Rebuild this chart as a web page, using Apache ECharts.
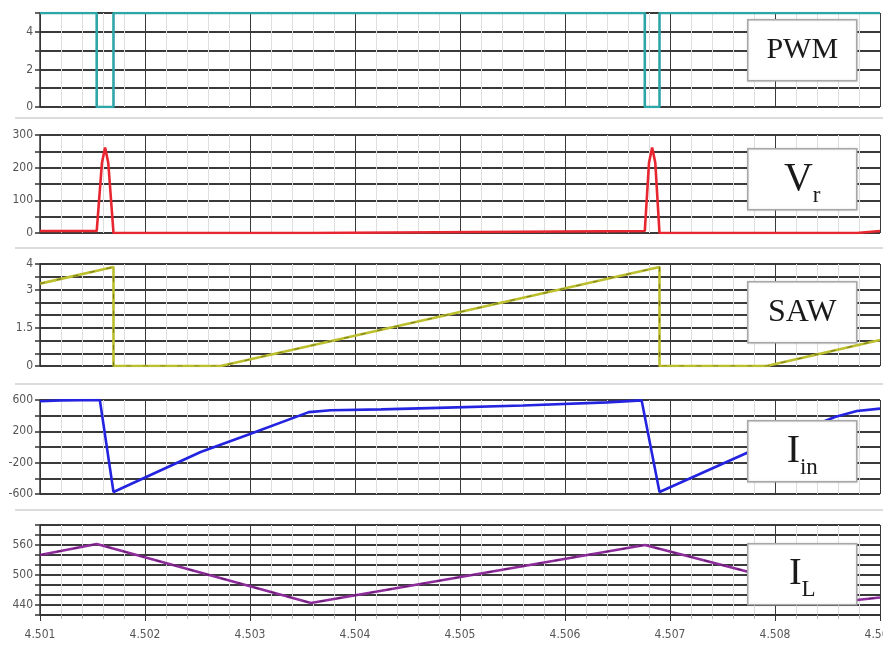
<!DOCTYPE html>
<html>
<head>
<meta charset="utf-8">
<title>PWM converter waveforms</title>
<script src="https://cdn.jsdelivr.net/npm/echarts@6/dist/echarts.min.js"></script>
<style>
  html, body { margin: 0; padding: 0; background: #fff; }
  #chart { width: 883px; height: 651px; }
</style>
</head>
<body>
<div id="chart"></div>
<script>
// Time axis (seconds)
const timeMin = 4.501;
const timeMax = 4.509;

// PWM gate signal
const pwmTime  = [4.501, 4.50154, 4.50154, 4.50170, 4.50170, 4.50676, 4.50676, 4.50690, 4.50690, 4.509];
const pwmValue = [5, 5, 0, 0, 5, 5, 0, 0, 5, 5];

// Voltage V_r
const vrTime  = [4.501, 4.50154, 4.50159, 4.50162, 4.50165, 4.50170, 4.50358, 4.50358, 4.50676, 4.50680, 4.50683, 4.50686, 4.50690, 4.50878, 4.50878, 4.509];
const vrValue = [6, 6, 215, 262, 215, 0, 0, 6, 6, 215, 262, 215, 0, 0, 6, 6];

// Sawtooth carrier
const sawTime  = [4.501, 4.50170, 4.50170, 4.50272, 4.50690, 4.50690, 4.50792, 4.509];
const sawValue = [3.23, 3.88, 0, 0, 3.88, 0, 0, 1.02];

// Input current I_in
const iinTime  = [4.501, 4.50120, 4.50157, 4.50170, 4.50253, 4.50300, 4.50356, 4.50377, 4.50425, 4.50479, 4.50560, 4.50640, 4.50673, 4.50690, 4.50773, 4.50857, 4.50878, 4.509];
const iinValue = [585, 595, 600, -575, -64, 167, 445, 470, 480, 500, 530, 570, 595, -575, -77, 383, 460, 490];

// Inductor current I_L
const ilTime  = [4.501, 4.50154, 4.50358, 4.50676, 4.50878, 4.509];
const ilValue = [540, 562, 444, 560, 450, 455];

// Axis ranges and visible tick labels per panel
const pwmAxis = { min: 0, max: 5, interval: 1, labels: [0, 2, 4] };
const vrAxis  = { min: 0, max: 300, interval: 50, labels: [0, 100, 200, 300] };
const sawAxis = { min: 0, max: 4, interval: 0.5, labels: [0, 1.5, 3, 4] };
const iinAxis = { min: -600, max: 600, interval: 200, labels: [-600, -200, 200, 600] };
const ilAxis  = { min: 420, max: 600, interval: 20, labels: [440, 500, 560] };

const zip = (xs, ys) => xs.map((x, i) => [x, ys[i]]);

// Panel layout: top & height in px
const panels = [
  { top: 13,  height: 94, axis: pwmAxis, data: zip(pwmTime, pwmValue), color: '#2ea6a8' },
  { top: 135, height: 98, axis: vrAxis,  data: zip(vrTime, vrValue),   color: '#e82630' },
  { top: 264, height: 102, axis: sawAxis, data: zip(sawTime, sawValue), color: '#bcbf2e', dash: '#55580f' },
  { top: 400, height: 94, axis: iinAxis, data: zip(iinTime, iinValue), color: '#2424e0' },
  { top: 525, height: 90, axis: ilAxis,  data: zip(ilTime, ilValue),   color: '#8e2c9c', dash: '#4a1050' }
];

const labelFont = "'Liberation Sans Narrow', 'DejaVu Sans Condensed', sans-serif";

const grids = [], xAxes = [], yAxes = [], series = [];
panels.forEach((p, i) => {
  const last = i === panels.length - 1;
  grids.push({ left: 40, right: 3, top: p.top, height: p.height, outerBoundsMode: 'none', containLabel: false });
  xAxes.push({
    type: 'value', gridIndex: i, min: timeMin, max: timeMax, interval: 0.001,
    axisLine: { show: last, onZero: false, lineStyle: { color: '#333', width: 1.5 } },
    axisTick: { show: last, length: 6, lineStyle: { color: '#333' } },
    minorTick: { show: last, splitNumber: 5, length: 4, lineStyle: { color: '#bbb' } },
    axisLabel: {
      show: last, margin: 14, color: '#555', fontSize: 12, fontFamily: labelFont,
      formatter: v => v.toFixed(3)
    },
    splitLine: { show: true, lineStyle: { color: '#3a3a3a', width: 1 } },
    minorSplitLine: { show: true, lineStyle: { color: '#dedede', width: 1 } }
  });
  const ax = p.axis;
  yAxes.push({
    type: 'value', gridIndex: i, min: ax.min, max: ax.max, interval: ax.interval,
    axisLine: { show: true, onZero: false, lineStyle: { color: '#333', width: 1.5 } },
    axisTick: { show: true, length: 5, lineStyle: { color: '#333', width: 1.5 } },
    axisLabel: {
      color: '#555', fontSize: 12, fontFamily: labelFont, margin: 7,
      formatter: v => ax.labels.some(l => Math.abs(l - v) < 1e-9) ? String(v) : ''
    },
    splitLine: { show: true, lineStyle: { color: '#3a3a3a', width: 1.8 } }
  });
  series.push({
    type: 'line', xAxisIndex: i, yAxisIndex: i, data: p.data,
    showSymbol: false, animation: false, silent: true,
    lineStyle: { color: p.color, width: 2.6 }
  });
  if (p.dash) {
    series.push({
      type: 'line', xAxisIndex: i, yAxisIndex: i, data: p.data,
      showSymbol: false, animation: false, silent: true,
      lineStyle: { color: p.dash, width: 1.2, type: [5, 12], opacity: 0.6 }
    });
  }
});

// Light separators between panels
const separators = [118, 248, 384, 510].map(y => ({
  type: 'line', silent: true, z: 50,
  shape: { x1: 15, y1: y, x2: 883, y2: y },
  style: { stroke: '#dcdcdc', lineWidth: 2 }
}));

// Signal name boxes
const serif = "'Liberation Serif', 'DejaVu Serif', serif";
const nameBox = (top, rich, text) => ({
  type: 'group', left: 747, top: top, z: 100,
  children: [
    { type: 'rect', z: 100, shape: { x: 0, y: 0, width: 109, height: 61 },
      style: { fill: '#ffffff', stroke: '#a8a8a8', lineWidth: 1.5, shadowBlur: 2, shadowColor: 'rgba(0,0,0,0.15)' } },
    { type: 'text', z: 101, x: 54.5, y: 30.5,
      style: { text: text, rich: rich, align: 'center', verticalAlign: 'middle', fill: '#1a1a1a', font: '30px ' + serif } }
  ]
});

const richMain = (size) => ({ m: { fontSize: size, fontFamily: serif, color: '#1a1a1a', verticalAlign: 'bottom' },
                              s: { fontSize: 23, fontFamily: serif, color: '#1a1a1a', verticalAlign: 'bottom', padding: [0, 0, -8, 0] } });

const boxes = [
  nameBox(19,  { m: { fontSize: 30, fontFamily: serif, color: '#1a1a1a' } }, '{m|PWM}'),
  nameBox(148, richMain(40), '{m|V}{s|r}'),
  nameBox(281, { m: { fontSize: 32, fontFamily: serif, color: '#1a1a1a' } }, '{m|SAW}'),
  nameBox(420, richMain(40), '{m|I}{s|in}'),
  nameBox(543, richMain(38), '{m|I}{s|L}')
];

const chart = echarts.init(document.getElementById('chart'), null, { renderer: 'canvas' });
chart.setOption({
  backgroundColor: '#fff',
  animation: false,
  grid: grids,
  xAxis: xAxes,
  yAxis: yAxes,
  series: series,
  graphic: separators.concat(boxes)
});
</script>
</body>
</html>
